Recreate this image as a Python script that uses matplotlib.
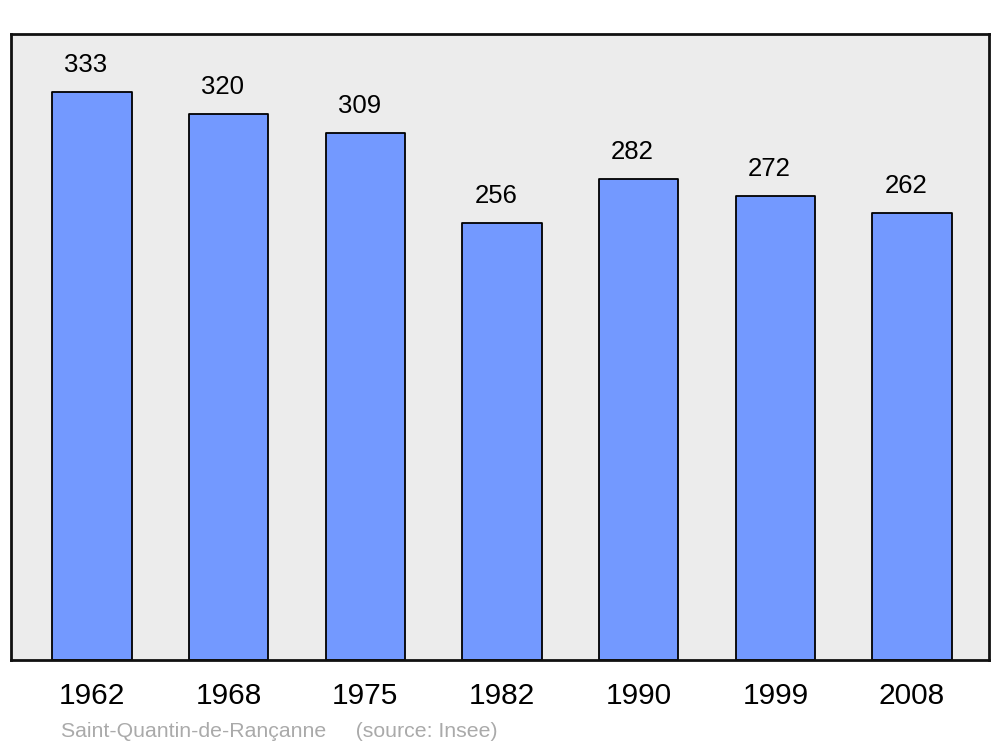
import matplotlib
matplotlib.use("Agg")
import matplotlib.pyplot as plt

years = ["1962", "1968", "1975", "1982", "1990", "1999", "2008"]
population = [333, 320, 309, 256, 282, 272, 262]

plt.rcParams['font.family'] = ['Liberation Sans', 'DejaVu Sans']

fig = plt.figure(figsize=(10, 7.47), dpi=100)
ax = fig.add_axes([0.011, 0.1165, 0.978, 0.838])
ax.set_facecolor('#ececec')

x = list(range(len(years)))
bars = ax.bar(x, population, width=0.58, color='#7399ff', edgecolor='black',
              linewidth=1.3, joinstyle='round', zorder=2)
for xi, v in zip(x, population):
    ax.annotate(str(v), (xi, v), xytext=(-4.5, 11), textcoords='offset points',
                ha='center', va='bottom', fontsize=18.5, color='black')

ax.set_xlim(-0.593, 6.563)
ax.set_ylim(0, 367)
ax.set_xticks(x)
ax.set_xticklabels(years, fontsize=21.5)
for lbl in ax.get_xticklabels():
    lbl.set_x(lbl.get_position()[0])
ax.tick_params(axis='x', length=0, pad=16)
ax.set_yticks([])
for s in ax.spines.values():
    s.set_linewidth(2)
    s.set_color('#111111')

fig.text(0.061, 0.008, "Saint-Quantin-de-Rançanne     (source: Insee)", fontsize=15.3,
         color='#aaaaaa', ha='left', va='bottom')

fig.savefig('out.png', dpi=100)
